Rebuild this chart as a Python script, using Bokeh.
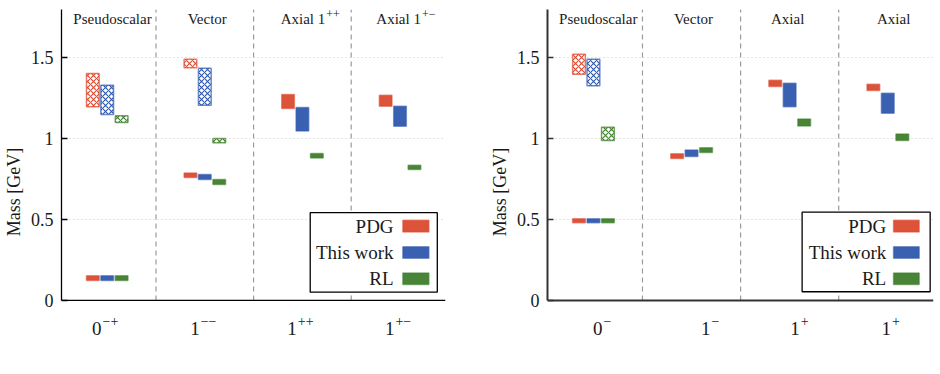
from bokeh.plotting import figure
from bokeh.layouts import row
from bokeh.models import FixedTicker, Span, Range1d, Label
from bokeh.core.properties import value
from bokeh.embed import file_html
from bokeh.resources import INLINE

SERIES = ["PDG", "This work", "RL"]
COLORS = ["#db4a2f", "#2f59ad", "#3e7e2b"]
FONT = "Liberation Serif"

# ---- light mesons (left) ----
light_tick_base = ["0", "1", "1", "1"]
light_tick_sup = ["−+", "−−", "++", "+−"]
light_header_base = ["Pseudoscalar", "Vector", "Axial 1", "Axial 1"]
light_header_sup = ["", "", "++", "+−"]
# ground states / axial states, one entry per channel
light_pdg_lo = [0.124, 0.760, 1.187, 1.202]
light_pdg_hi = [0.153, 0.789, 1.274, 1.270]
light_this_lo = [0.124, 0.748, 1.049, 1.078]
light_this_hi = [0.153, 0.779, 1.194, 1.202]
light_rl_lo = [0.124, 0.717, 0.882, 0.810]
light_rl_hi = [0.153, 0.748, 0.909, 0.836]
# first radial excitations (hatched), pseudoscalar and vector channels
light_exc_channels = [0, 1]
light_pdg_exc_lo = [1.198, 1.439]
light_pdg_exc_hi = [1.404, 1.493]
light_this_exc_lo = [1.150, 1.208]
light_this_exc_hi = [1.332, 1.436]
light_rl_exc_lo = [1.101, 0.975]
light_rl_exc_hi = [1.142, 1.002]

# ---- strange mesons (right) ----
strange_tick_base = ["0", "1", "1", "1"]
strange_tick_sup = ["−", "−", "+", "+"]
strange_header_base = ["Pseudoscalar", "Vector", "Axial", "Axial"]
strange_header_sup = ["", "", "", ""]
strange_pdg_lo = [0.480, 0.878, 1.323, 1.299]
strange_pdg_hi = [0.506, 0.907, 1.363, 1.338]
strange_this_lo = [0.480, 0.890, 1.199, 1.158]
strange_this_hi = [0.506, 0.931, 1.344, 1.282]
strange_rl_lo = [0.480, 0.915, 1.080, 0.989]
strange_rl_hi = [0.506, 0.944, 1.123, 1.030]
strange_exc_channels = [0]
strange_pdg_exc_lo = [1.400]
strange_pdg_exc_hi = [1.523]
strange_this_exc_lo = [1.329]
strange_this_exc_hi = [1.492]
strange_rl_exc_lo = [0.989]
strange_rl_exc_hi = [1.072]

y_ticks = [0, 0.5, 1, 1.5]
y_tick_labels = ["0", "0.5", "1", "1.5"]

OFFSETS = [-0.147, 0.0, 0.148]
BAR_W = 0.13
X_RANGE = (-0.468, 3.466)
Y_TOP = 1.8
# the frame runs below zero so the channel labels sit inside it
Y_RANGE = (-0.458, Y_TOP)

# rough advance widths (em) of the serif face, for centring base+superscript
_EM = {" ": 0.25, "i": 0.278, "l": 0.278, "a": 0.444, "x": 0.5, "A": 0.722,
       "−": 0.564, "+": 0.564}


def text_width(s, size):
    return sum(_EM.get(ch, 0.5) for ch in s) * size


def sup_label(p, x, y, base, sup, base_size, sup_size, base_dy, sup_dy):
    """Draw `base` with a raised `sup`, the pair centred on x."""
    wb = text_width(base, base_size)
    ws = text_width(sup, sup_size) + (1 if sup else 0)
    edge = (wb - ws) / 2.0
    p.add_layout(Label(x=x, y=y, text=base, text_align="right",
                       text_baseline="alphabetic", x_offset=edge,
                       y_offset=base_dy, text_font=FONT,
                       text_font_size=f"{base_size}px", text_color="#1a1a1a"))
    if sup:
        p.add_layout(Label(x=x, y=y, text=sup, text_align="left",
                           text_baseline="alphabetic", x_offset=edge + 1,
                           y_offset=sup_dy, text_font=FONT,
                           text_font_size=f"{sup_size}px",
                           text_color="#1a1a1a"))


def panel(tick_base, tick_sup, tick_pos, head_base, head_sup, head_pos,
          solid, excited, exc_channels, legend_box,
          axis_color, axis_width, width, border_left, border_right):
    p = figure(width=width, height=374, output_backend="svg",
               toolbar_location=None, x_axis_location=None,
               x_range=Range1d(*X_RANGE), y_range=Range1d(*Y_RANGE),
               min_border_left=border_left, min_border_right=border_right,
               min_border_top=9, min_border_bottom=0)
    p.outline_line_color = None
    p.background_fill_color = "white"
    p.xgrid.visible = False

    # vertical axis, drawn only over the mass range
    p.yaxis.bounds = (0, Y_TOP)
    p.yaxis.ticker = FixedTicker(ticks=y_ticks)
    p.yaxis.major_label_overrides = {t: l for t, l in zip(y_ticks, y_tick_labels)}
    p.yaxis.major_tick_in = 6
    p.yaxis.major_tick_out = 0
    p.yaxis.minor_tick_line_color = None
    p.yaxis.major_label_standoff = 8
    p.yaxis.axis_label = "Mass [GeV]"
    p.yaxis.axis_label_standoff = 4
    p.yaxis.axis_label_text_font_style = "normal"
    p.yaxis.axis_line_color = axis_color
    p.yaxis.axis_line_width = axis_width
    p.yaxis.major_tick_line_color = axis_color
    p.yaxis.major_tick_line_width = 1.3
    p.yaxis.major_label_text_font = FONT
    p.yaxis.major_label_text_font_size = "18px"
    p.yaxis.major_label_text_color = "#1a1a1a"
    p.yaxis.axis_label_text_font = FONT
    p.yaxis.axis_label_text_font_size = "18px"
    p.yaxis.axis_label_text_color = "#1a1a1a"
    p.ygrid.ticker = FixedTicker(ticks=[0.5, 1, 1.5])
    p.ygrid.grid_line_color = "#c8c8c8"
    p.ygrid.grid_line_dash = "1 3"
    p.ygrid.grid_line_width = 1

    # horizontal axis line at zero mass
    p.add_layout(Span(location=0, dimension="width", line_color=axis_color,
                      line_width=axis_width))

    # channel labels under the axis
    for xb, b, s in zip(tick_pos, tick_base, tick_sup):
        sup_label(p, xb, 0, b, s, 19, 14, -28, -21)

    # channel separators
    n = len(tick_base)
    seps = [k + 0.5 for k in range(n - 1)]
    r = p.segment(x0=seps, x1=seps, y0=[0] * (n - 1), y1=[Y_TOP] * (n - 1),
                  line_color="#9a9a9a", line_dash="5 4", line_width=1.2)
    r.level = "underlay"

    # channel headers
    for xh, b, s in zip(head_pos, head_base, head_sup):
        sup_label(p, xh, Y_TOP, b, s, 15, 12, -9, -4)

    # ground-state / axial bars
    for s, (lo, hi) in enumerate(solid):
        xs = [i + OFFSETS[s] for i in range(len(lo))]
        p.vbar(x=xs, bottom=lo, top=hi, width=BAR_W,
               fill_color=COLORS[s], fill_alpha=0.95,
               line_color=COLORS[s], line_alpha=0.55, line_width=1.5)

    # radial excitations, hatched
    for s, (lo, hi) in enumerate(excited):
        xs = [c + OFFSETS[s] for c in exc_channels]
        p.vbar(x=xs, bottom=lo, top=hi, width=BAR_W,
               fill_color="white", fill_alpha=1.0,
               hatch_pattern="diagonal_cross", hatch_color=COLORS[s],
               hatch_scale=6, hatch_weight=1.1,
               line_color=COLORS[s], line_alpha=0.7, line_width=1.5)

    # legend: label on the left, swatch on the right
    bx0, bx1, by0, by1, tx, sx0, sx1 = legend_box
    p.quad(left=[bx0], right=[bx1], bottom=[by0], top=[by1],
           fill_color="white", line_color="black", line_width=1.3)
    rows_y = [0.460, 0.297, 0.134]
    p.text(x=[tx] * 3, y=rows_y, text=SERIES, text_align="right",
           text_baseline="middle", text_font=value(FONT),
           text_font_size="19px", text_color="#1a1a1a")
    p.quad(left=[sx0] * 3, right=[sx1] * 3,
           bottom=[y - 0.036 for y in rows_y], top=[y + 0.036 for y in rows_y],
           fill_color=COLORS, fill_alpha=0.95, line_color=COLORS,
           line_alpha=0.55, line_width=1.5)
    return p


left = panel(
    light_tick_base, light_tick_sup, [-0.02, 0.985, 1.98, 2.98],
    light_header_base, light_header_sup, [0.02, 0.995, 2.08, 3.06],
    [(light_pdg_lo, light_pdg_hi), (light_this_lo, light_this_hi),
     (light_rl_lo, light_rl_hi)],
    [(light_pdg_exc_lo, light_pdg_exc_hi),
     (light_this_exc_lo, light_this_exc_hi),
     (light_rl_exc_lo, light_rl_exc_hi)],
    light_exc_channels,
    (2.080, 3.382, 0.051, 0.543, 2.934, 3.029, 3.296),
    "black", 1.3, 470, 58, 25)

right = panel(
    strange_tick_base, strange_tick_sup, [0.09, 1.19, 2.10, 3.03],
    strange_header_base, strange_header_sup, [0.015, 0.99, 1.98, 3.06],
    [(strange_pdg_lo, strange_pdg_hi), (strange_this_lo, strange_this_hi),
     (strange_rl_lo, strange_rl_hi)],
    [(strange_pdg_exc_lo, strange_pdg_exc_hi),
     (strange_this_exc_lo, strange_this_exc_hi),
     (strange_rl_exc_lo, strange_rl_exc_hi)],
    strange_exc_channels,
    (2.127, 3.432, 0.054, 0.546, 2.984, 3.059, 3.320),
    "#333333", 2.0, 470, 77, 7)

layout = row(left, right)
open("out.html", "w").write(file_html(layout, INLINE))
